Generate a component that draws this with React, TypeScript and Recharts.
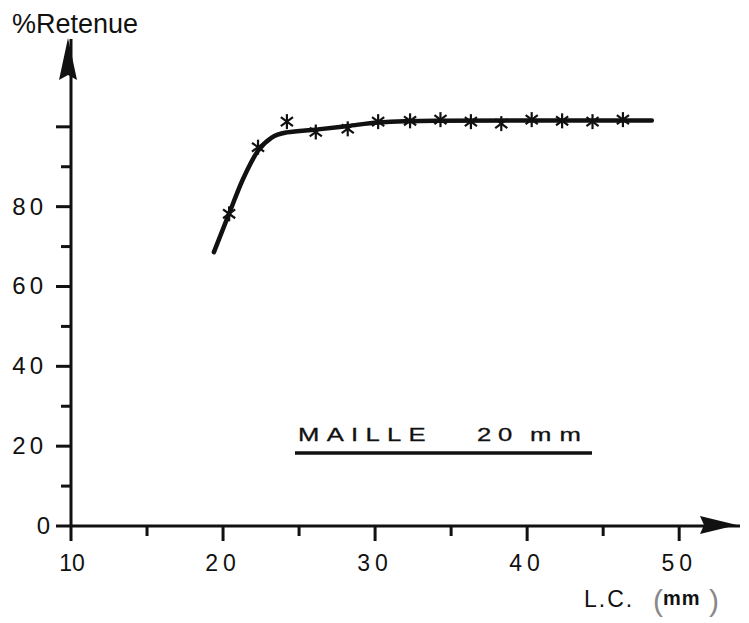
import React from "react";
import {
  ComposedChart,
  Line,
  Scatter,
  XAxis,
  YAxis,
  ReferenceDot,
} from "recharts";

// measured points (L.C. in mm, % retained)
const pointLc = [20.4, 22.3, 24.2, 26.1, 28.2, 30.2, 32.3, 34.3, 36.3, 38.3, 40.3, 42.3, 44.3, 46.3];
const pointRet = [78.2, 94.9, 101.3, 98.7, 99.5, 101.3, 101.5, 101.8, 101.3, 100.8, 101.8, 101.5, 101.3, 101.8];

// hand-fitted selectivity curve
const curveLc = [19.4, 20.4, 21.3, 22.3, 23.2, 24.2, 26.1, 28.2, 30.2, 34, 40, 48.2];
const curveRet = [68.6, 78.3, 86.8, 94, 97.3, 98.6, 99.3, 100.2, 101.1, 101.5, 101.6, 101.6];

const xTicks = [10, 15, 20, 25, 30, 35, 40, 45, 50];
const xLabels = [10, 20, 30, 40, 50];
const yTicks = [0, 10, 20, 30, 40, 50, 60, 70, 80, 90, 100];
const yLabels = [0, 20, 40, 60, 80];

const points = pointLc.map((lc, i) => ({ lc, ret: pointRet[i] }));
const curve = curveLc.map((lc, i) => ({ lc, ret: curveRet[i] }));

const FONT = "'Liberation Sans', Arial, sans-serif";
const INK = "#111";

const XTick = ({ x, y, payload }: any) => {
  const v = payload.value;
  const major = v % 10 === 0;
  return (
    <g>
      <line x1={x} x2={x} y1={y} y2={y + (major ? 15 : 10)} stroke={INK} strokeWidth={3} />
      {xLabels.includes(v) && (
        <text x={x + (v === 10 ? 1 : 0)} y={y + 45} textAnchor="middle" fontFamily={FONT} fontSize={23}
          letterSpacing={v === 10 ? 0 : 5} fill={INK}>
          {v}
        </text>
      )}
    </g>
  );
};

const YTick = ({ x, y, payload }: any) => {
  const v = payload.value;
  const major = v % 20 === 0;
  return (
    <g>
      <line x1={x - (major ? 15 : 10)} x2={x} y1={y} y2={y} stroke={INK} strokeWidth={3} />
      {yLabels.includes(v) && (
        <text x={x - (v === 0 ? 17 : 24)} y={y + 8} textAnchor="end" fontFamily={FONT} fontSize={24}
          letterSpacing={4} fill={INK}>
          {v}
        </text>
      )}
    </g>
  );
};

const Star = ({ cx, cy }: any) => {
  const r = 7.5;
  const dx = r * Math.cos(Math.PI / 5);
  const dy = r * Math.sin(Math.PI / 5);
  return (
    <g stroke={INK} strokeWidth={2.2}>
      <line x1={cx} y1={cy - r} x2={cx} y2={cy + r} />
      <line x1={cx - dx} y1={cy - dy} x2={cx + dx} y2={cy + dy} />
      <line x1={cx - dx} y1={cy + dy} x2={cx + dx} y2={cy - dy} />
    </g>
  );
};

const XArrow = ({ cx, cy }: any) => (
  <polygon points={`${cx - 3},${cy - 1} ${cx - 40},${cy - 10} ${cx - 36},${cy - 1} ${cx - 40},${cy + 8}`} fill={INK} />
);

const YArrow = ({ cx, cy }: any) => (
  <polygon points={`${cx - 3},${cy - 1} ${cx - 12},${cy + 41} ${cx - 3},${cy + 36} ${cx + 6},${cy + 41}`} fill={INK} />
);

// wide lettering for the mesh caption
const Wide = ({ x, y, ls, children }: any) => (
  <text transform={`translate(${x},${y}) scale(1.35,1)`} fontFamily={FONT} fontSize={19}
    letterSpacing={ls} fill={INK} stroke={INK} strokeWidth={0.3}>
    {children}
  </text>
);

export default function App() {
  return (
    <div style={{ position: "absolute", left: 0, top: 0, width: 749, height: 623, background: "#fff" }}>
      <ComposedChart
        width={749}
        height={623}
        margin={{ top: 39, right: 9, bottom: 37, left: 10 }}
      >
        <XAxis
          type="number"
          dataKey="lc"
          domain={[10, 54]}
          ticks={xTicks}
          tickSize={0}
          tickMargin={0}
          height={60}
          axisLine={{ stroke: INK, strokeWidth: 3 }}
          tick={<XTick />}
          allowDataOverflow
        />
        <YAxis
          type="number"
          dataKey="ret"
          domain={[0, 122]}
          ticks={yTicks}
          tickSize={0}
          tickMargin={0}
          width={61}
          axisLine={{ stroke: INK, strokeWidth: 3 }}
          tick={<YTick />}
          allowDataOverflow
        />
        <ReferenceDot x={54} y={0} ifOverflow="visible" shape={<XArrow />} />
        <ReferenceDot x={10} y={122} ifOverflow="visible" shape={<YArrow />} />
        <Line
          data={curve}
          dataKey="ret"
          type="monotone"
          stroke={INK}
          strokeWidth={4.5}
          strokeLinecap="round"
          dot={false}
          activeDot={false}
          isAnimationActive={false}
        />
        <Scatter data={points} dataKey="ret" shape={<Star />} isAnimationActive={false} />
      </ComposedChart>
      <svg width={749} height={623} style={{ position: "absolute", left: 0, top: 0, pointerEvents: "none" }}>
        <text x={12} y={33} fontFamily={FONT} fontSize={27} fill={INK}>%Retenue</text>
        <Wide x={298} y={441} ls={5.4}>MAILLE</Wide>
        <Wide x={477} y={441} ls={5}>20</Wide>
        <Wide x={530} y={441} ls={6}>mm</Wide>
        <line x1={295} x2={592} y1={453} y2={453} stroke={INK} strokeWidth={3.5} />
        <text x={584} y={607} fontFamily={FONT} fontSize={23} fill={INK} letterSpacing={2}>L.C.</text>
        <text x={653} y={611} fontFamily={FONT} fontSize={30} fontWeight={300} fill="#888">(</text>
        <text x={663} y={605} fontFamily={FONT} fontSize={20} fontWeight="bold" fill={INK} letterSpacing={1}>mm</text>
        <text x={709} y={611} fontFamily={FONT} fontSize={30} fontWeight={300} fill="#888">)</text>
      </svg>
    </div>
  );
}
